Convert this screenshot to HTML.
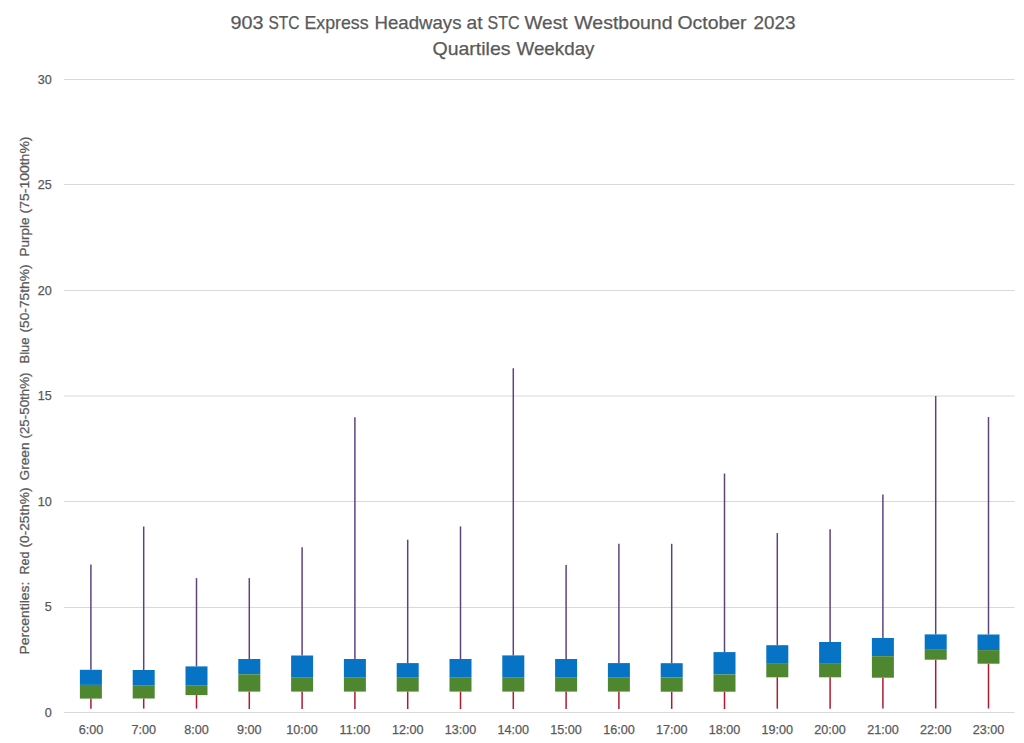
<!DOCTYPE html>
<html><head><meta charset="utf-8"><style>
html,body{margin:0;padding:0;background:#fff;width:1024px;height:743px;overflow:hidden}
svg{display:block}
text{font-family:"Liberation Sans",sans-serif;fill:#595959;stroke:#595959;stroke-width:0.25px}
.tk{font-size:12.6px}
.ttl{font-size:19px}
.ax{font-size:12.9px}
</style></head><body>
<svg width="1024" height="743" viewBox="0 0 1024 743">
<rect width="1024" height="743" fill="#fff"/>
<line x1="64" y1="79.5" x2="1014.5" y2="79.5" stroke="#D9D9D9" stroke-width="1"/>
<line x1="64" y1="184.5" x2="1014.5" y2="184.5" stroke="#D9D9D9" stroke-width="1"/>
<line x1="64" y1="290.5" x2="1014.5" y2="290.5" stroke="#D9D9D9" stroke-width="1"/>
<line x1="64" y1="396.0" x2="1014.5" y2="396.0" stroke="#D9D9D9" stroke-width="1"/>
<line x1="64" y1="501.5" x2="1014.5" y2="501.5" stroke="#D9D9D9" stroke-width="1"/>
<line x1="64" y1="607.5" x2="1014.5" y2="607.5" stroke="#D9D9D9" stroke-width="1"/>
<line x1="64" y1="712.5" x2="1014.5" y2="712.5" stroke="#D9D9D9" stroke-width="1"/>
<text x="51.8" y="83.6" text-anchor="end" class="tk">30</text>
<text x="51.8" y="189.1" text-anchor="end" class="tk">25</text>
<text x="51.8" y="294.6" text-anchor="end" class="tk">20</text>
<text x="51.8" y="400.1" text-anchor="end" class="tk">15</text>
<text x="51.8" y="505.6" text-anchor="end" class="tk">10</text>
<text x="51.8" y="611.1" text-anchor="end" class="tk">5</text>
<text x="51.8" y="716.6" text-anchor="end" class="tk">0</text>
<line x1="90.90" y1="564.6" x2="90.90" y2="669.8" stroke="#5F437F" stroke-width="1.5"/>
<line x1="90.90" y1="698.6" x2="90.90" y2="708.7" stroke="#B01A2C" stroke-width="1.5"/>
<rect x="79.90" y="669.8" width="22" height="15.10" fill="#0673C4"/>
<rect x="79.90" y="684.9" width="22" height="13.70" fill="#4F8730"/>
<line x1="143.70" y1="526.5" x2="143.70" y2="670.0" stroke="#5F437F" stroke-width="1.5"/>
<line x1="143.70" y1="698.5" x2="143.70" y2="708.6" stroke="#B01A2C" stroke-width="1.5"/>
<rect x="132.70" y="670.0" width="22" height="15.20" fill="#0673C4"/>
<rect x="132.70" y="685.2" width="22" height="13.30" fill="#4F8730"/>
<line x1="196.50" y1="578.1" x2="196.50" y2="666.4" stroke="#5F437F" stroke-width="1.5"/>
<line x1="196.50" y1="695.1" x2="196.50" y2="708.6" stroke="#B01A2C" stroke-width="1.5"/>
<rect x="185.50" y="666.4" width="22" height="18.80" fill="#0673C4"/>
<rect x="185.50" y="685.2" width="22" height="9.90" fill="#4F8730"/>
<line x1="249.30" y1="578.1" x2="249.30" y2="659.0" stroke="#5F437F" stroke-width="1.5"/>
<line x1="249.30" y1="691.6" x2="249.30" y2="709.0" stroke="#B01A2C" stroke-width="1.5"/>
<rect x="238.30" y="659.0" width="22" height="15.30" fill="#0673C4"/>
<rect x="238.30" y="674.3" width="22" height="17.30" fill="#4F8730"/>
<line x1="302.10" y1="547.3" x2="302.10" y2="655.5" stroke="#5F437F" stroke-width="1.5"/>
<line x1="302.10" y1="691.6" x2="302.10" y2="709.0" stroke="#B01A2C" stroke-width="1.5"/>
<rect x="291.10" y="655.5" width="22" height="22.20" fill="#0673C4"/>
<rect x="291.10" y="677.7" width="22" height="13.90" fill="#4F8730"/>
<line x1="354.90" y1="417.2" x2="354.90" y2="659.0" stroke="#5F437F" stroke-width="1.5"/>
<line x1="354.90" y1="691.6" x2="354.90" y2="709.0" stroke="#B01A2C" stroke-width="1.5"/>
<rect x="343.90" y="659.0" width="22" height="18.70" fill="#0673C4"/>
<rect x="343.90" y="677.7" width="22" height="13.90" fill="#4F8730"/>
<line x1="407.70" y1="539.7" x2="407.70" y2="663.1" stroke="#5F437F" stroke-width="1.5"/>
<line x1="407.70" y1="691.6" x2="407.70" y2="709.0" stroke="#B01A2C" stroke-width="1.5"/>
<rect x="396.70" y="663.1" width="22" height="14.60" fill="#0673C4"/>
<rect x="396.70" y="677.7" width="22" height="13.90" fill="#4F8730"/>
<line x1="460.50" y1="526.4" x2="460.50" y2="659.0" stroke="#5F437F" stroke-width="1.5"/>
<line x1="460.50" y1="691.6" x2="460.50" y2="709.0" stroke="#B01A2C" stroke-width="1.5"/>
<rect x="449.50" y="659.0" width="22" height="18.70" fill="#0673C4"/>
<rect x="449.50" y="677.7" width="22" height="13.90" fill="#4F8730"/>
<line x1="513.30" y1="368.3" x2="513.30" y2="655.4" stroke="#5F437F" stroke-width="1.5"/>
<line x1="513.30" y1="691.6" x2="513.30" y2="709.0" stroke="#B01A2C" stroke-width="1.5"/>
<rect x="502.30" y="655.4" width="22" height="22.30" fill="#0673C4"/>
<rect x="502.30" y="677.7" width="22" height="13.90" fill="#4F8730"/>
<line x1="566.10" y1="564.9" x2="566.10" y2="659.0" stroke="#5F437F" stroke-width="1.5"/>
<line x1="566.10" y1="691.6" x2="566.10" y2="709.0" stroke="#B01A2C" stroke-width="1.5"/>
<rect x="555.10" y="659.0" width="22" height="18.70" fill="#0673C4"/>
<rect x="555.10" y="677.7" width="22" height="13.90" fill="#4F8730"/>
<line x1="618.90" y1="543.8" x2="618.90" y2="663.1" stroke="#5F437F" stroke-width="1.5"/>
<line x1="618.90" y1="691.6" x2="618.90" y2="709.0" stroke="#B01A2C" stroke-width="1.5"/>
<rect x="607.90" y="663.1" width="22" height="14.60" fill="#0673C4"/>
<rect x="607.90" y="677.7" width="22" height="13.90" fill="#4F8730"/>
<line x1="671.70" y1="543.8" x2="671.70" y2="663.2" stroke="#5F437F" stroke-width="1.5"/>
<line x1="671.70" y1="691.7" x2="671.70" y2="708.9" stroke="#B01A2C" stroke-width="1.5"/>
<rect x="660.70" y="663.2" width="22" height="14.30" fill="#0673C4"/>
<rect x="660.70" y="677.5" width="22" height="14.20" fill="#4F8730"/>
<line x1="724.50" y1="473.5" x2="724.50" y2="652.1" stroke="#5F437F" stroke-width="1.5"/>
<line x1="724.50" y1="691.7" x2="724.50" y2="709.0" stroke="#B01A2C" stroke-width="1.5"/>
<rect x="713.50" y="652.1" width="22" height="22.40" fill="#0673C4"/>
<rect x="713.50" y="674.5" width="22" height="17.20" fill="#4F8730"/>
<line x1="777.30" y1="533.1" x2="777.30" y2="645.2" stroke="#5F437F" stroke-width="1.5"/>
<line x1="777.30" y1="677.3" x2="777.30" y2="708.7" stroke="#B01A2C" stroke-width="1.5"/>
<rect x="766.30" y="645.2" width="22" height="18.60" fill="#0673C4"/>
<rect x="766.30" y="663.8" width="22" height="13.50" fill="#4F8730"/>
<line x1="830.10" y1="529.3" x2="830.10" y2="642.0" stroke="#5F437F" stroke-width="1.5"/>
<line x1="830.10" y1="677.3" x2="830.10" y2="708.7" stroke="#B01A2C" stroke-width="1.5"/>
<rect x="819.10" y="642.0" width="22" height="21.80" fill="#0673C4"/>
<rect x="819.10" y="663.8" width="22" height="13.50" fill="#4F8730"/>
<line x1="882.90" y1="494.5" x2="882.90" y2="638.0" stroke="#5F437F" stroke-width="1.5"/>
<line x1="882.90" y1="677.7" x2="882.90" y2="708.5" stroke="#B01A2C" stroke-width="1.5"/>
<rect x="871.90" y="638.0" width="22" height="18.20" fill="#0673C4"/>
<rect x="871.90" y="656.2" width="22" height="21.50" fill="#4F8730"/>
<line x1="935.70" y1="396.0" x2="935.70" y2="634.4" stroke="#5F437F" stroke-width="1.5"/>
<line x1="935.70" y1="659.7" x2="935.70" y2="708.5" stroke="#B01A2C" stroke-width="1.5"/>
<rect x="924.70" y="634.4" width="22" height="15.40" fill="#0673C4"/>
<rect x="924.70" y="649.8" width="22" height="9.90" fill="#4F8730"/>
<line x1="988.50" y1="417.0" x2="988.50" y2="634.5" stroke="#5F437F" stroke-width="1.5"/>
<line x1="988.50" y1="663.7" x2="988.50" y2="708.5" stroke="#B01A2C" stroke-width="1.5"/>
<rect x="977.50" y="634.5" width="22" height="15.60" fill="#0673C4"/>
<rect x="977.50" y="650.1" width="22" height="13.60" fill="#4F8730"/>
<text x="90.90" y="733.8" text-anchor="middle" class="tk">6:00</text>
<text x="143.70" y="733.8" text-anchor="middle" class="tk">7:00</text>
<text x="196.50" y="733.8" text-anchor="middle" class="tk">8:00</text>
<text x="249.30" y="733.8" text-anchor="middle" class="tk">9:00</text>
<text x="302.10" y="733.8" text-anchor="middle" class="tk">10:00</text>
<text x="354.90" y="733.8" text-anchor="middle" class="tk">11:00</text>
<text x="407.70" y="733.8" text-anchor="middle" class="tk">12:00</text>
<text x="460.50" y="733.8" text-anchor="middle" class="tk">13:00</text>
<text x="513.30" y="733.8" text-anchor="middle" class="tk">14:00</text>
<text x="566.10" y="733.8" text-anchor="middle" class="tk">15:00</text>
<text x="618.90" y="733.8" text-anchor="middle" class="tk">16:00</text>
<text x="671.70" y="733.8" text-anchor="middle" class="tk">17:00</text>
<text x="724.50" y="733.8" text-anchor="middle" class="tk">18:00</text>
<text x="777.30" y="733.8" text-anchor="middle" class="tk">19:00</text>
<text x="830.10" y="733.8" text-anchor="middle" class="tk">20:00</text>
<text x="882.90" y="733.8" text-anchor="middle" class="tk">21:00</text>
<text x="935.70" y="733.8" text-anchor="middle" class="tk">22:00</text>
<text x="988.50" y="733.8" text-anchor="middle" class="tk">23:00</text>
<text x="230.50" y="28.7" class="ttl" textLength="33.00" lengthAdjust="spacingAndGlyphs">903</text>
<text x="268.50" y="28.7" class="ttl" textLength="31.00" lengthAdjust="spacingAndGlyphs">STC</text>
<text x="304.50" y="28.7" class="ttl" textLength="64.00" lengthAdjust="spacingAndGlyphs">Express</text>
<text x="374.50" y="28.7" class="ttl" textLength="87.00" lengthAdjust="spacingAndGlyphs">Headways</text>
<text x="466.50" y="28.7" class="ttl" textLength="16.00" lengthAdjust="spacingAndGlyphs">at</text>
<text x="487.50" y="28.7" class="ttl" textLength="32.00" lengthAdjust="spacingAndGlyphs">STC</text>
<text x="524.50" y="28.7" class="ttl" textLength="43.00" lengthAdjust="spacingAndGlyphs">West</text>
<text x="574.30" y="28.7" class="ttl" textLength="98.20" lengthAdjust="spacingAndGlyphs">Westbound</text>
<text x="677.50" y="28.7" class="ttl" textLength="69.00" lengthAdjust="spacingAndGlyphs">October</text>
<text x="753.50" y="28.7" class="ttl" textLength="42.00" lengthAdjust="spacingAndGlyphs">2023</text>
<text x="432.50" y="54.6" class="ttl" textLength="78.00" lengthAdjust="spacingAndGlyphs">Quartiles</text>
<text x="516.50" y="54.6" class="ttl" textLength="78.00" lengthAdjust="spacingAndGlyphs">Weekday</text>
<text transform="translate(29.2,654.50) rotate(-90)" class="ax" textLength="73.00" lengthAdjust="spacingAndGlyphs">Percentiles:</text>
<text transform="translate(29.2,574.50) rotate(-90)" class="ax" textLength="23.00" lengthAdjust="spacingAndGlyphs">Red</text>
<text transform="translate(29.2,547.50) rotate(-90)" class="ax" textLength="60.00" lengthAdjust="spacingAndGlyphs">(0-25th%)</text>
<text transform="translate(29.2,480.50) rotate(-90)" class="ax" textLength="38.00" lengthAdjust="spacingAndGlyphs">Green</text>
<text transform="translate(29.2,438.50) rotate(-90)" class="ax" textLength="66.00" lengthAdjust="spacingAndGlyphs">(25-50th%)</text>
<text transform="translate(29.2,363.50) rotate(-90)" class="ax" textLength="26.00" lengthAdjust="spacingAndGlyphs">Blue</text>
<text transform="translate(29.2,332.50) rotate(-90)" class="ax" textLength="68.00" lengthAdjust="spacingAndGlyphs">(50-75th%)</text>
<text transform="translate(29.2,256.50) rotate(-90)" class="ax" textLength="39.00" lengthAdjust="spacingAndGlyphs">Purple</text>
<text transform="translate(29.2,213.50) rotate(-90)" class="ax" textLength="77.00" lengthAdjust="spacingAndGlyphs">(75-100th%)</text>
</svg>
</body></html>
